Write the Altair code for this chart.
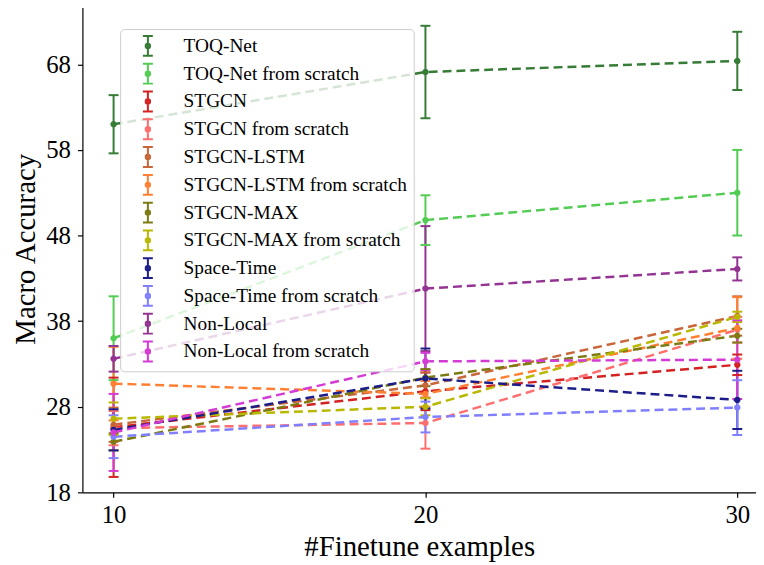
import altair as alt
import pandas as pd

FONT = "Liberation Serif"

series = [
    "TOQ-Net", "TOQ-Net from scratch",
    "STGCN", "STGCN from scratch",
    "STGCN-LSTM", "STGCN-LSTM from scratch",
    "STGCN-MAX", "STGCN-MAX from scratch",
    "Space-Time", "Space-Time from scratch",
    "Non-Local", "Non-Local from scratch",
]
colors = [
    "#367b36", "#52cc52",
    "#d42222", "#ff6e6e",
    "#c8663a", "#ff8033",
    "#7b7b12", "#b8b800",
    "#1d1d8a", "#8080ff",
    "#933493", "#d43ad4",
]
x_vals = [10, 20, 30]

toq = [61.0, 67.1, 68.4]
toq_err = [3.4, 5.4, 3.4]
toq_s = [36.0, 49.8, 53.0]
toq_s_err = [4.9, 2.9, 5.0]
stgcn = [25.6, 29.8, 32.9]
stgcn_err = [5.8, 2.2, 1.2]
stgcn_s = [25.5, 26.1, 37.0]
stgcn_s_err = [2.0, 3.0, 1.5]
lstm = [25.9, 30.5, 38.6]
lstm_err = [2.0, 1.5, 2.3]
lstm_s = [30.7, 29.5, 37.2]
lstm_s_err = [4.3, 1.5, 3.6]
smax = [23.9, 31.4, 36.3]
smax_err = [1.0, 1.0, 0.8]
smax_s = [26.6, 28.0, 38.5]
smax_s_err = [1.9, 1.0, 0.6]
st = [25.3, 31.3, 28.8]
st_err = [2.4, 3.5, 3.4]
st_s = [24.5, 26.8, 27.9]
st_s_err = [2.5, 1.8, 3.2]
nl = [33.6, 41.8, 44.1]
nl_err = [1.5, 7.3, 1.35]
nl_s = [25.0, 33.3, 33.5]
nl_s_err = [4.5, 1.0, 4.6]

means = [toq, toq_s, stgcn, stgcn_s, lstm, lstm_s, smax, smax_s, st, st_s, nl, nl_s]
errs = [toq_err, toq_s_err, stgcn_err, stgcn_s_err, lstm_err, lstm_s_err,
        smax_err, smax_s_err, st_err, st_s_err, nl_err, nl_s_err]

rows = []
for s, ms, es in zip(series, means, errs):
    for xv, m, e in zip(x_vals, ms, es):
        rows.append({"series": s, "x": xv, "y": m, "lo": m - e, "hi": m + e})
df = pd.DataFrame(rows)

Y_MIN, Y_MAX = 18, 74.9
xscale = alt.Scale(domain=[9, 30.6], nice=False, zero=False)
yscale = alt.Scale(domain=[Y_MIN, Y_MAX], nice=False, zero=False)
XT = "#Finetune examples"
YT = "Macro Accuracy"

xenc = alt.X("x:Q", scale=xscale, title=XT,
             axis=alt.Axis(values=x_vals, title=XT, titlePadding=6))
yenc = alt.Y("y:Q", scale=yscale, title=YT,
             axis=alt.Axis(values=[18, 28, 38, 48, 58, 68], title=YT,
                           titlePadding=5, labelPadding=7))
cscale = alt.Scale(domain=series, range=colors)
# stroke scale: same mapping, listed in reverse so it stays a separate (legend-less) scale
sscale = alt.Scale(domain=series[::-1], range=colors[::-1])
stroke_enc = alt.Stroke("series:N", scale=sscale, legend=None)

symbol_path = ("M-0.5,-1L0.5,-1M0,-1L0,1M-0.5,1L0.5,1"
               "M0.22,0A0.22,0.22,0,1,1,-0.22,0A0.22,0.22,0,1,1,0.22,0")

legend = alt.Legend(
    title=None, orient="none", legendX=38, legendY=24,
    symbolType=symbol_path, symbolSize=400, symbolStrokeWidth=2,
    symbolOffset=11, labelOffset=25, rowPadding=0,
    labelFont=FONT, labelFontSize=19.5, labelColor="black", labelLimit=500,
    fillColor="rgba(255,255,255,0.8)", strokeColor="#cccccc",
    cornerRadius=4, padding=6,
)

base = alt.Chart(df)

lines = base.mark_line(strokeDash=[9, 5], strokeWidth=2.5).encode(
    x=xenc, y=yenc, stroke=stroke_enc, order="x:Q",
)

bars = base.mark_rule(strokeWidth=2).encode(
    x=alt.X("x:Q", scale=xscale, title=XT),
    y=alt.Y("lo:Q", scale=yscale, title=YT),
    y2="hi:Q",
    stroke=stroke_enc,
)

caps_lo = base.mark_point(shape="stroke", filled=False, size=100,
                          strokeWidth=2, opacity=1).encode(
    x=alt.X("x:Q", scale=xscale, title=XT),
    y=alt.Y("lo:Q", scale=yscale, title=YT),
    stroke=stroke_enc,
)
caps_hi = base.mark_point(shape="stroke", filled=False, size=100,
                          strokeWidth=2, opacity=1).encode(
    x=alt.X("x:Q", scale=xscale, title=XT),
    y=alt.Y("hi:Q", scale=yscale, title=YT),
    stroke=stroke_enc,
)

points = base.mark_point(filled=False, shape="circle", size=12,
                         strokeWidth=3, opacity=1).encode(
    x=alt.X("x:Q", scale=xscale, title=XT),
    y=alt.Y("y:Q", scale=yscale, title=YT),
    color=alt.Color("series:N", scale=cscale, legend=legend),
)

top_rule = alt.Chart(df).mark_rule(color="black", strokeWidth=1.2).encode(
    y=alt.datum(Y_MAX)
)

chart = alt.layer(lines, bars, caps_lo, caps_hi, points, top_rule).properties(
    width=679, height=491,
    autosize="none",
    padding={"left": 75, "top": -5, "right": 0, "bottom": 70},
).configure_view(stroke=None).configure_axis(
    labelFont=FONT, labelFontSize=25, labelColor="black", labelPadding=5,
    titleFont=FONT, titleFontSize=29, titleFontWeight="normal", titleColor="black",
    domainColor="black", domainWidth=1.2, tickColor="black", tickSize=5,
    tickWidth=1.2, grid=False,
)

chart.save("out.html", embed_options={"renderer": "svg", "actions": False})
